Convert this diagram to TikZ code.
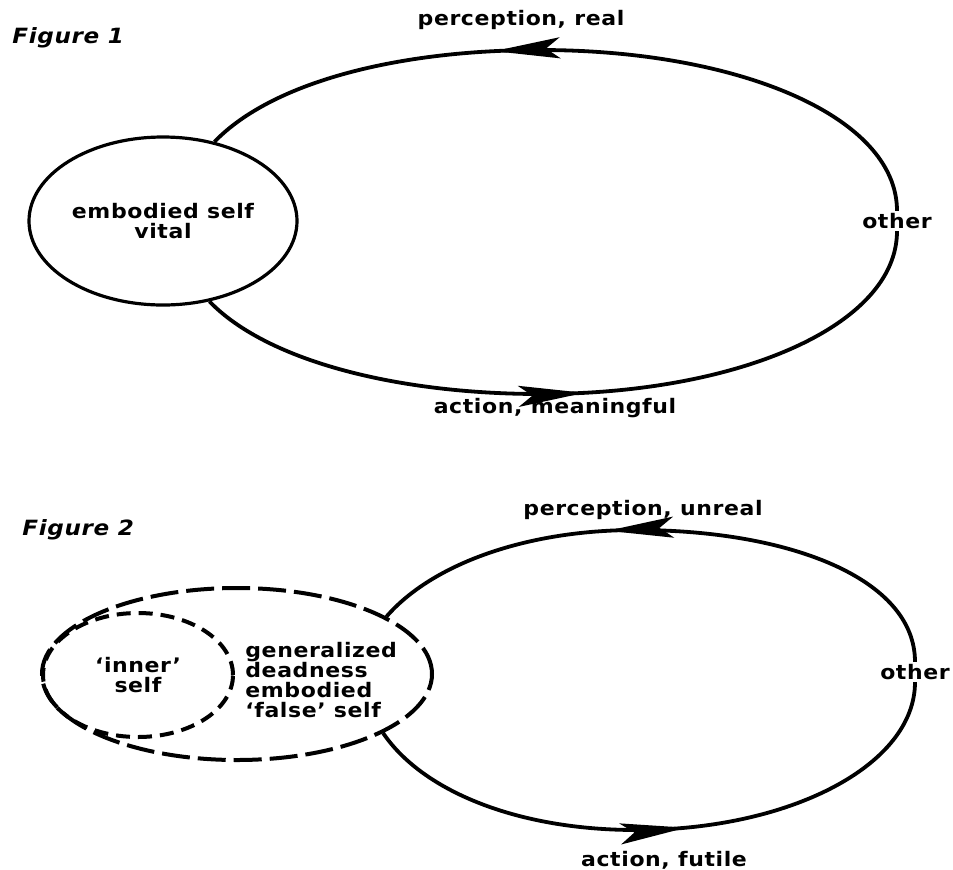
\documentclass[tikz,border=0pt]{standalone}
\usepackage{fontspec}
\setmainfont{DejaVu Sans}[FakeStretch=1.1,LetterSpace=3,
  BoldFont={DejaVu Sans Bold},ItalicFont={DejaVu Sans Oblique},
  BoldItalicFont={DejaVu Sans Bold Oblique}]
\usetikzlibrary{shapes.geometric,arrows.meta,decorations.markings}

\tikzset{
  lbl/.style={font=\bfseries\fontsize{10}{10}\selectfont,inner sep=1pt},
  figlbl/.style={font=\bfseries\itshape\fontsize{10.5}{12}\selectfont,inner sep=0pt,anchor=west},
  selfring/.style={draw,ellipse,line width=1.6pt,inner sep=0pt},
  dashring/.style={draw,ellipse,line width=2pt,inner sep=0pt},
  loopline/.style={line width=1.9pt},
  arrowat/.style={decoration={markings,
      mark=at position #1 with {\arrow{Stealth[length=33pt,width=10.5pt,inset=7pt]}}},
    postaction={decorate}},
}

\begin{document}
\begin{tikzpicture}[x=0.5pt,y=-0.5pt]
\useasboundingbox (0,0) rectangle (953,869);
\begin{scope}
		\node[figlbl] (fig1) at (12,38) {Figure 1};
		\node[selfring,lbl,minimum width=134pt,minimum height=84pt,align=center] (self) at (163,221) {embodied self\\vital};
		\node[lbl] (other1) at (897,221) {other};
		\node[lbl] (perc1) at (521,20) {perception, real};
		\node[lbl] (act1) at (555,408) {action, meaningful};
		\coordinate (top1) at (540,50);
		\coordinate (bot1) at (540,394);
		\draw[loopline,arrowat=0.61] (other1.north) .. controls +(0,-95) and +(197,0) .. (top1)
				.. controls +(-139,0) and +(59,-61) .. (self.57);
		\draw[loopline,arrowat=0.51] (self.-60) .. controls +(59,61) and +(-139,0) .. (bot1)
				.. controls +(197,0) and +(0,95) .. (other1.south);
\end{scope}

\begin{scope}
		\node[figlbl] (fig2) at (22,530) {Figure 2};
		\node[dashring,dash pattern=on 14pt off 4pt,minimum width=195pt,minimum height=86pt] (falseself) at (237,674) {};
		\node[dashring,dash pattern=on 7pt off 4pt,lbl,minimum width=95pt,minimum height=62pt,align=center] (innerself) at (138,675) {`inner'\\self};
		\node[lbl,align=left,anchor=west] (falsetext) at (243,680) {generalized\\deadness\\embodied\\`false' self};
		\node[lbl] (other2) at (915,672) {other};
		\node[lbl] (perc2) at (643,510) {perception, unreal};
		\node[lbl] (act2) at (664,860) {action, futile};
		\coordinate (top2) at (636,530);
		\coordinate (bot2) at (636,830);
		\draw[loopline,arrowat=0.6] (other2.north) .. controls +(0,-83) and +(154,0) .. (top2)
				.. controls +(-109,0) and +(46,-53) .. (falseself.21);
		\draw[loopline,arrowat=0.53] (falseself.-22) .. controls +(40,59) and +(-117,0) .. (bot2)
				.. controls +(154,0) and +(0,83) .. (other2.south);
\end{scope}
\end{tikzpicture}
\end{document}
